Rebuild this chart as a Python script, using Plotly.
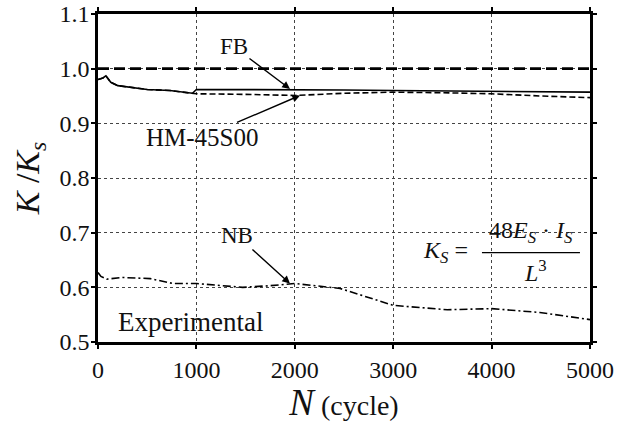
import plotly.graph_objects as go

# ---- data ----
ref_n = [0, 5000]
ref_k = [1.0, 1.0]

fb_n = [0, 50, 80, 130, 200, 500, 730, 960, 1000, 1500, 2000, 2500, 3000, 3500, 4000, 4500, 5000]
fb_k = [0.980, 0.983, 0.987, 0.975, 0.969, 0.962, 0.960, 0.955, 0.962, 0.962, 0.962, 0.961, 0.960, 0.959, 0.958, 0.957, 0.957]

hm_n = [0, 50, 80, 130, 200, 500, 730, 960, 1000, 1500, 2000, 2500, 3000, 3500, 4000, 4500, 5000]
hm_k = [0.980, 0.983, 0.987, 0.975, 0.969, 0.962, 0.960, 0.955, 0.954, 0.953, 0.951, 0.955, 0.957, 0.956, 0.954, 0.950, 0.947]

nb_n = [0, 30, 90, 250, 530, 760, 1000, 1470, 1750, 2000, 2460, 2940, 3000, 3550, 4000, 4490, 5000]
nb_k = [0.627, 0.620, 0.615, 0.618, 0.616, 0.607, 0.607, 0.600, 0.603, 0.607, 0.598, 0.570, 0.567, 0.559, 0.561, 0.554, 0.541]

x_ticks = [0, 1000, 2000, 3000, 4000, 5000]
y_ticks = [0.5, 0.6, 0.7, 0.8, 0.9, 1.0, 1.1]

FONT = "Liberation Serif"

fig = go.Figure()
fig.add_trace(go.Scatter(x=ref_n, y=ref_k, mode="lines", name="K/Ks = 1",
                         line=dict(color="black", width=2.6, dash="11px,5px")))
fig.add_trace(go.Scatter(x=fb_n, y=fb_k, mode="lines", name="FB",
                         line=dict(color="black", width=1.6)))
fig.add_trace(go.Scatter(x=hm_n, y=hm_k, mode="lines", name="HM-45S00",
                         line=dict(color="black", width=1.6, dash="6px,3px")))
fig.add_trace(go.Scatter(x=nb_n, y=nb_k, mode="lines", name="NB",
                         line=dict(color="black", width=1.6, dash="8px,3px,2px,3px")))

ann_font = dict(family=FONT, size=23, color="#111")
arrow = dict(showarrow=True, arrowhead=2, arrowsize=1.1, arrowwidth=1.4,
             arrowcolor="black", axref="pixel", ayref="pixel")

fig.add_annotation(x=1951, y=0.963, text="FB", ax=-56, ay=-42, font=ann_font, **arrow)
fig.add_annotation(x=2053, y=0.951, text="HM-45S00", ax=-98, ay=42,
                   font=dict(family=FONT, size=25, color="#111"), **arrow)
fig.add_annotation(x=1951, y=0.607, text="NB", ax=-53, ay=-48, font=ann_font, **arrow)
fig.add_annotation(x=183, y=0.537, text="Experimental", showarrow=False, xanchor="left",
                   font=dict(family=FONT, size=27, color="#111"))

# formula K_S = 48 E_S . I_S / L^3
fml = dict(family=FONT, size=24, color="#111")
fig.add_annotation(x=3530, y=0.664, text="<i>K<sub>S</sub></i> =", showarrow=False, font=fml)
fig.add_annotation(x=4400, y=0.701, text="48<i>E<sub>S</sub></i> · <i>I<sub>S</sub></i>",
                   showarrow=False, font=fml)
fig.add_annotation(x=4450, y=0.629, text="<i>L</i><sup>3</sup>", showarrow=False, font=fml)
fig.add_shape(type="line", xref="x", yref="y", x0=3902, x1=4898, y0=0.6636, y1=0.6636,
              line=dict(color="black", width=1.2))

axis_common = dict(
    showline=True, linewidth=2.6, linecolor="black", mirror="ticks",
    ticks="outside", ticklen=4, tickwidth=1.5, tickcolor="black",
    showgrid=True, gridcolor="#444", gridwidth=1, griddash="dot",
    zeroline=False, tickfont=dict(family=FONT, size=24, color="#111"),
    automargin=False,
)

fig.update_xaxes(range=[0, 5000], tickvals=x_ticks, ticktext=[str(v) for v in x_ticks],
                 title=dict(text="<i>N</i><span style='font-size:28px'> (cycle)</span>",
                            font=dict(family=FONT, size=37, color="#111"), standoff=0),
                 **axis_common)
fig.update_yaxes(range=[0.5, 1.1], tickvals=y_ticks, ticktext=[f"{v:.1f}" for v in y_ticks],
                 ticklabelstandoff=-3,
                 title=dict(text="<i>K</i> /<i>K<sub>s</sub></i>",
                            font=dict(family=FONT, size=34, color="#111"), standoff=10),
                 **axis_common)

fig.update_layout(width=634, height=423, margin=dict(l=98, r=44, t=14, b=81),
                  plot_bgcolor="white", paper_bgcolor="white", showlegend=False,
                  font=dict(family=FONT))

fig.write_html("out.html")
